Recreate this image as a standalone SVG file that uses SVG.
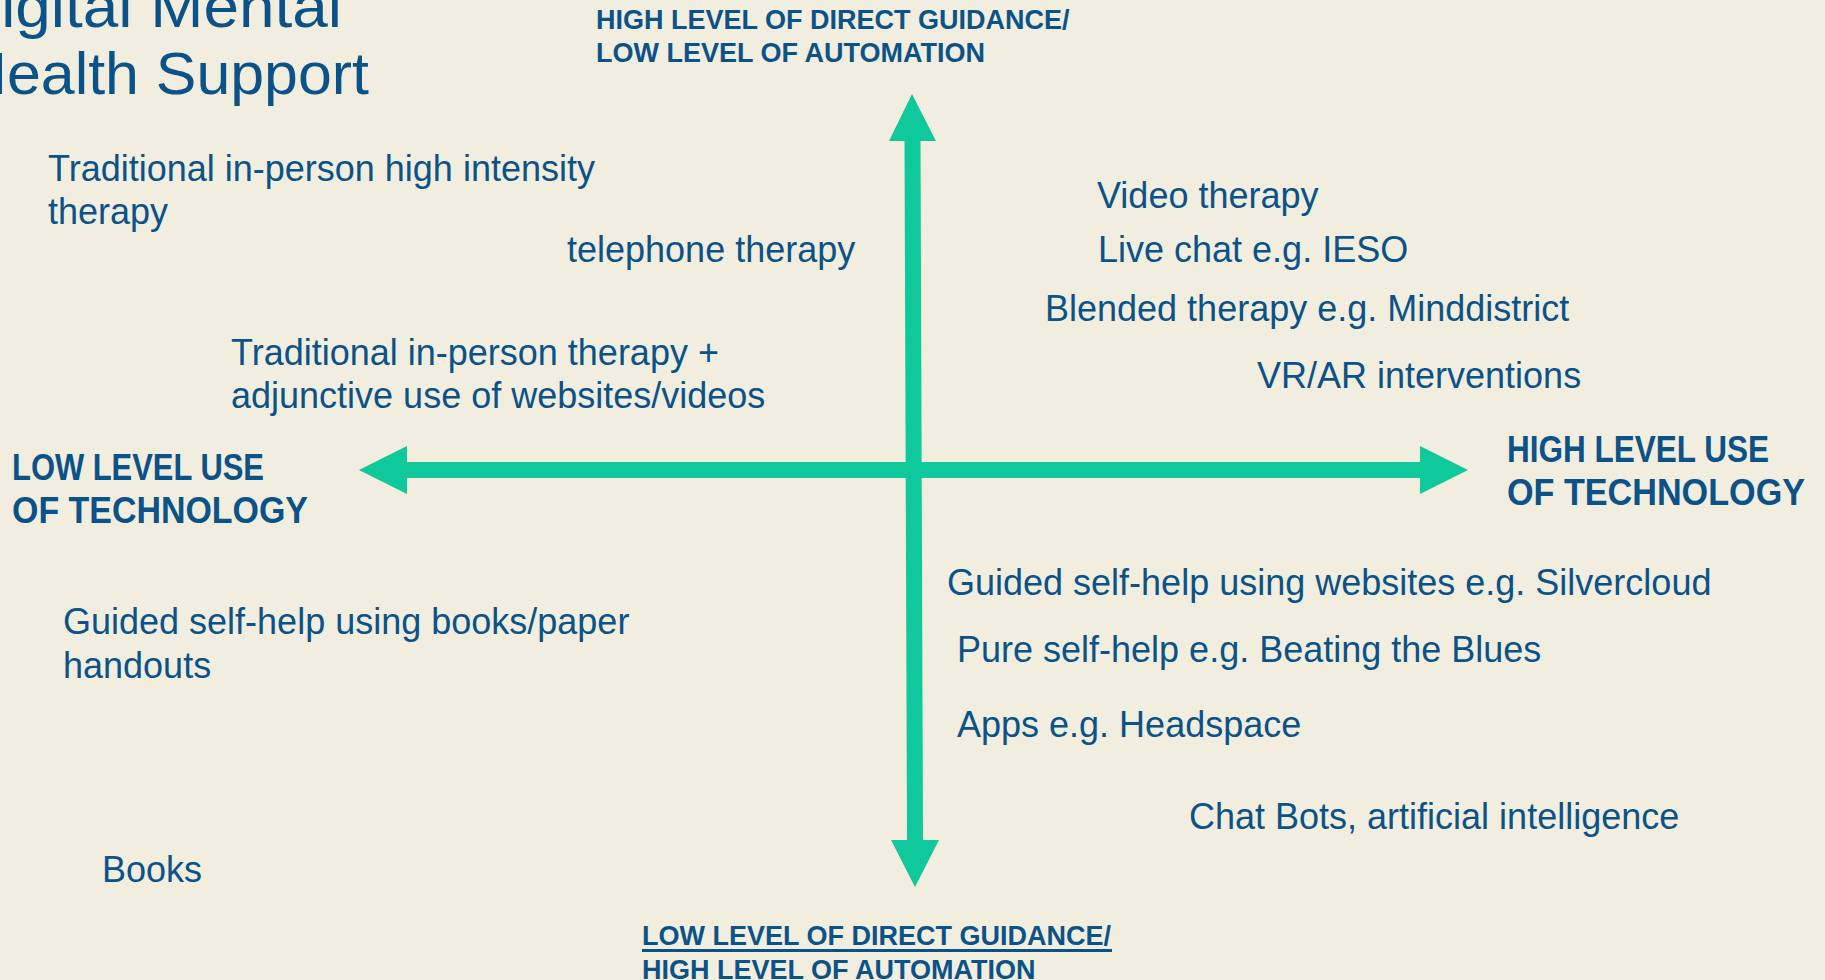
<svg xmlns="http://www.w3.org/2000/svg" width="1825" height="980" viewBox="0 0 1825 980">
<style>
.bg{fill:#F2EEDF}
.t{font-family:"Liberation Sans",Arial,sans-serif;font-size:36px;fill:#0B5288}
.title{font-family:"Liberation Sans",Arial,sans-serif;font-size:60px;fill:#0B5288}
.ax{font-family:"Liberation Sans",Arial,sans-serif;font-size:27px;font-weight:bold;fill:#0B5288}
.axb{font-family:"Liberation Sans",Arial,sans-serif;font-size:36px;font-weight:bold;fill:#0B5288}
.arrow{fill:#0FC99C}
</style>
<rect class="bg" x="0" y="0" width="1825" height="980"/>
<g id="title">
<text class="title" x="-45" y="27" textLength="387" lengthAdjust="spacingAndGlyphs">Digital Mental</text>
<text class="title" x="-37" y="94" textLength="406" lengthAdjust="spacingAndGlyphs">Health Support</text>
</g>
<g id="connectors">
<polygon class="arrow" points="359,470 407,446 407,462 1420,462 1420,446 1468,470 1420,494 1420,478 407,478 407,494"/>
<polygon class="arrow" points="912,94 936,141 920.5,141 923,840 939,840 915,887 891,840 907,840 904.5,141 889,141"/>
</g>
<g id="axis-top">
<text class="ax" x="596" y="29">HIGH LEVEL OF DIRECT GUIDANCE/</text>
<text class="ax" x="596" y="62">LOW LEVEL OF AUTOMATION</text>
</g>
<g id="axis-bottom">
<text class="ax" x="642" y="945">LOW LEVEL OF DIRECT GUIDANCE/</text>
<rect x="642" y="949" width="470" height="3" fill="#0B5288"/>
<text class="ax" x="642" y="979">HIGH LEVEL OF AUTOMATION</text>
</g>
<g id="axis-left">
<text class="axb" x="12" y="480" textLength="252" lengthAdjust="spacingAndGlyphs">LOW LEVEL USE</text>
<text class="axb" x="12" y="523" textLength="296" lengthAdjust="spacingAndGlyphs">OF TECHNOLOGY</text>
</g>
<g id="axis-right">
<text class="axb" x="1507" y="462" textLength="262" lengthAdjust="spacingAndGlyphs">HIGH LEVEL USE</text>
<text class="axb" x="1507" y="505" textLength="298" lengthAdjust="spacingAndGlyphs">OF TECHNOLOGY</text>
</g>
<g id="n-traditional-high"><text class="t" x="48" y="181">Traditional in-person high intensity</text><text class="t" x="48" y="224">therapy</text></g>
<g id="n-telephone"><text class="t" x="567" y="262">telephone therapy</text></g>
<g id="n-traditional-adjunct"><text class="t" x="231" y="365">Traditional in-person therapy +</text><text class="t" x="231" y="408">adjunctive use of websites/videos</text></g>
<g id="n-video"><text class="t" x="1097" y="208">Video therapy</text></g>
<g id="n-livechat"><text class="t" x="1098" y="262">Live chat e.g. IESO</text></g>
<g id="n-blended"><text class="t" x="1045" y="321">Blended therapy e.g. Minddistrict</text></g>
<g id="n-vrar"><text class="t" x="1257" y="388">VR/AR interventions</text></g>
<g id="n-guided-web"><text class="t" x="947" y="595">Guided self-help using websites e.g. Silvercloud</text></g>
<g id="n-pure"><text class="t" x="957" y="662">Pure self-help e.g. Beating the Blues</text></g>
<g id="n-apps"><text class="t" x="957" y="737">Apps e.g. Headspace</text></g>
<g id="n-chatbots"><text class="t" x="1189" y="829">Chat Bots, artificial intelligence</text></g>
<g id="n-guided-books"><text class="t" x="63" y="634">Guided self-help using books/paper</text><text class="t" x="63" y="678">handouts</text></g>
<g id="n-books"><text class="t" x="102" y="882">Books</text></g>
</svg>
